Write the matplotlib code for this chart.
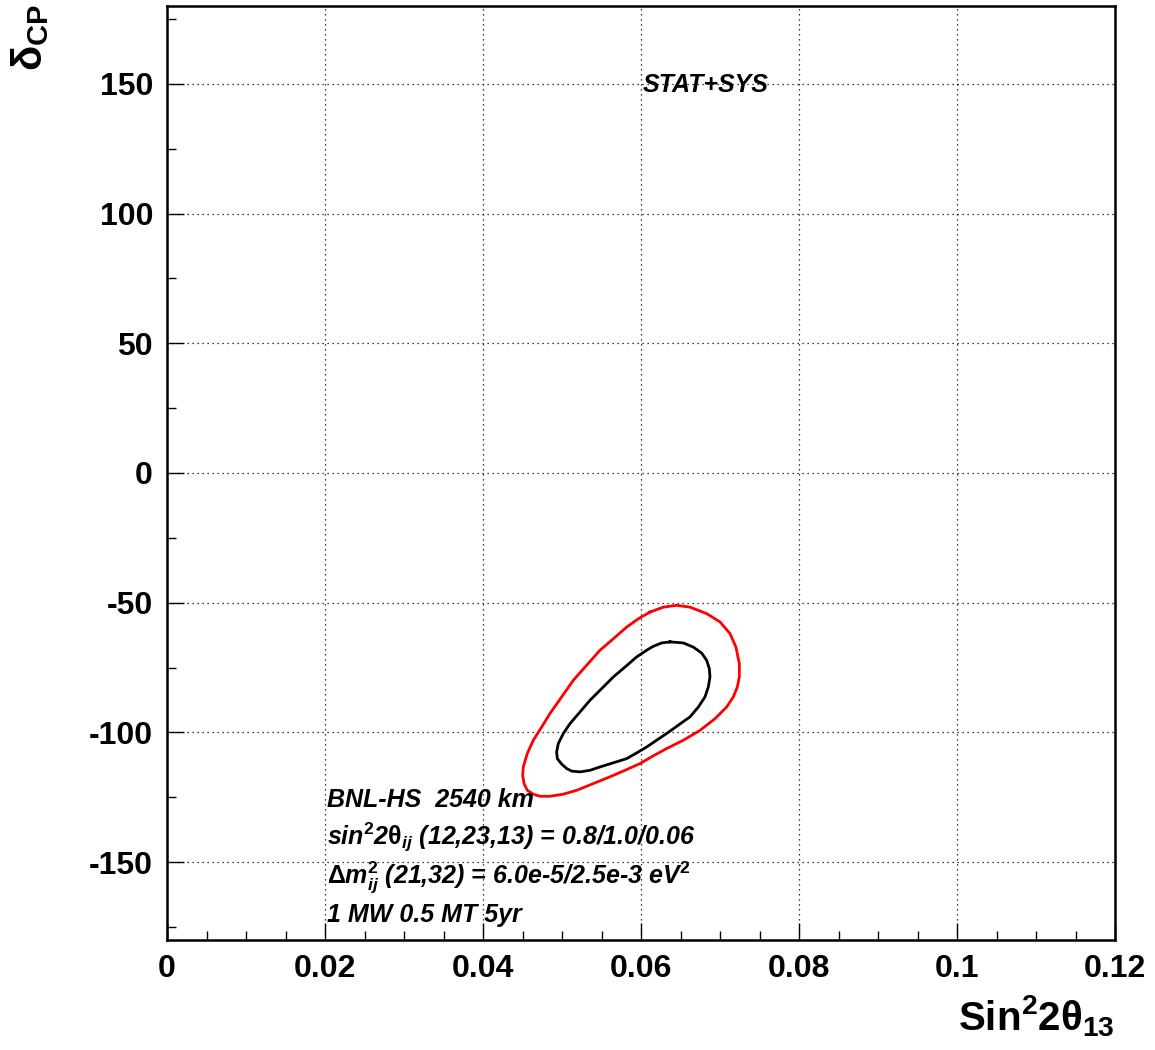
import matplotlib
matplotlib.use("Agg")
import matplotlib.pyplot as plt
from matplotlib.ticker import MultipleLocator

# ---- data ----
red_x = [0.06114, 0.06283, 0.06451, 0.06620, 0.06831, 0.07000, 0.07127, 0.07202,
         0.07245, 0.07245, 0.07219, 0.07169, 0.07084, 0.06937, 0.06747, 0.06536,
         0.06325, 0.06156, 0.05987, 0.05797, 0.05607, 0.05397, 0.05186, 0.05017,
         0.04848, 0.04721, 0.04637, 0.04561, 0.04519, 0.04502, 0.04510, 0.04561,
         0.04637, 0.04743, 0.04848, 0.04996, 0.05143, 0.05312, 0.05481, 0.05650,
         0.05818, 0.05966]
red_y = [-53.6, -51.7, -51.0, -51.7, -54.2, -57.4, -61.9, -67.1,
         -73.5, -78.6, -82.5, -86.3, -90.2, -94.7, -99.2, -103.0,
         -106.2, -109.0, -112.0, -114.6, -117.1, -119.7, -122.3, -123.8,
         -124.6, -124.6, -123.8, -122.3, -119.7, -116.5, -113.3, -108.1,
         -103.0, -97.9, -92.7, -86.3, -79.9, -74.1, -68.3, -63.9,
         -59.4, -56.2]
black_x = [0.06367, 0.06536, 0.06662, 0.06768, 0.06831, 0.06865, 0.06873, 0.06852,
           0.06810, 0.06726, 0.06620, 0.06472, 0.06325, 0.06198, 0.06072, 0.05945,
           0.05818, 0.05650, 0.05481, 0.05354, 0.05228, 0.05122, 0.05059, 0.04996,
           0.04941, 0.04932, 0.04953, 0.05017, 0.05101, 0.05228, 0.05354, 0.05502,
           0.05650, 0.05797, 0.05945, 0.06072, 0.06156, 0.06262]
black_y = [-65.1, -65.5, -67.1, -69.4, -72.2, -75.4, -78.6, -82.5,
           -86.3, -90.2, -94.0, -97.2, -100.4, -103.0, -105.6, -107.9,
           -110.1, -111.7, -113.3, -114.6, -115.2, -114.9, -113.9, -112.2,
           -110.1, -107.5, -104.3, -100.4, -96.6, -92.1, -87.6, -83.1,
           -78.6, -74.8, -70.9, -68.3, -66.8, -65.5]

x_ticks = [0, 0.02, 0.04, 0.06, 0.08, 0.1, 0.12]
x_tick_labels = ["0", "0.02", "0.04", "0.06", "0.08", "0.1", "0.12"]
y_ticks = [-150, -100, -50, 0, 50, 100, 150]
y_tick_labels = ["-150", "-100", "-50", "0", "50", "100", "150"]

info_lines = [
    "BNL-HS  2540 km",
    r"sin$^{\mathit{2}}$2$\mathrm{\theta}_{\mathit{ij}}$ (12,23,13) = 0.8/1.0/0.06",
    r"$\mathrm{\Delta}$m$_{\mathit{ij}}^{\mathit{2}}$ (21,32) = 6.0e-5/2.5e-3 eV$^{\mathit{2}}$",
    "1 MW 0.5 MT 5yr",
]

# ---- style ----
plt.rcParams["font.family"] = ["Liberation Sans", "DejaVu Sans"]
plt.rcParams["font.weight"] = "bold"
plt.rcParams["axes.unicode_minus"] = False
plt.rcParams["mathtext.fontset"] = "custom"
plt.rcParams["mathtext.rm"] = "Liberation Sans:bold"
plt.rcParams["mathtext.it"] = "Liberation Sans:bold:italic"
plt.rcParams["mathtext.bf"] = "Liberation Sans:bold"
plt.rcParams["mathtext.default"] = "rm"

W, H = 1155, 1050
fig = plt.figure(figsize=(W / 100, H / 100), dpi=100)
ax = fig.add_axes([167 / W, 1 - 940 / H, (1115 - 167) / W, (940 - 6) / H])

ax.plot(red_x + red_x[:1], red_y + red_y[:1], color="#ff0000", lw=2.0,
        solid_joinstyle="round")
ax.plot(black_x + black_x[:1], black_y + black_y[:1], color="black", lw=2.0,
        solid_joinstyle="round")

ax.set_xlim(0, 0.12)
ax.set_ylim(-180, 180)
ax.set_xticks(x_ticks)
ax.set_xticklabels(x_tick_labels)
ax.set_yticks(y_ticks)
ax.set_yticklabels(y_tick_labels)
ax.xaxis.set_minor_locator(MultipleLocator(0.005))
ax.yaxis.set_minor_locator(MultipleLocator(25))
ax.tick_params(which="both", direction="in", top=False, right=False,
               labelsize=23, width=1.0)
ax.tick_params(which="major", length=12, pad=10)
ax.tick_params(which="minor", length=6.5)
for lab in ax.get_xticklabels() + ax.get_yticklabels():
    lab.set_fontweight("bold")
ax.grid(True, which="major", color="black", lw=0.9, linestyle=(0, (1, 3)))
for sp in ax.spines.values():
    sp.set_linewidth(1.8)

# axis titles
fig.text(1115 / W, 1 - 1030 / H, r"Sin$^{2}$2$\mathrm{\theta}_{13}$",
         ha="right", va="baseline", fontsize=29, fontweight="bold")
fig.text(9 / W, 1 - 4 / H, r"$\mathrm{\delta}_{\mathrm{CP}}$", rotation=90,
         ha="left", va="top", fontsize=30, fontweight="bold")

# annotations
fig.text(643 / W, 1 - 92 / H, "STAT+SYS", ha="left", va="baseline",
         fontsize=18, fontweight="bold", style="italic")
baselines = [807, 845, 883, 922]
for txt, b in zip(info_lines, baselines):
    fig.text(327 / W, 1 - b / H, txt, ha="left", va="baseline",
             fontsize=18, fontweight="bold", style="italic")

fig.savefig("out.png", dpi=100, facecolor="white")
